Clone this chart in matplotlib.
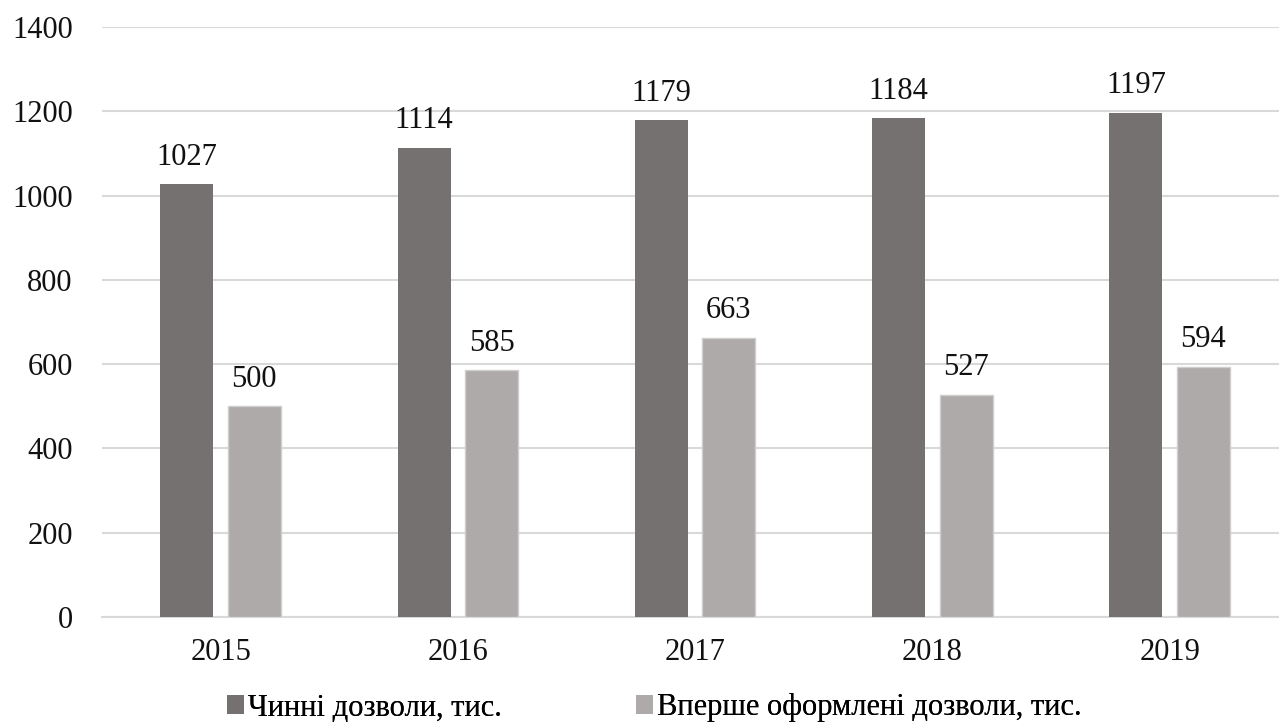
import numpy as np
import matplotlib
matplotlib.use("Agg")
import matplotlib.pyplot as plt
from matplotlib.patches import Patch

# Data
years = ["2015", "2016", "2017", "2018", "2019"]
current_permits = [1027, 1114, 1179, 1184, 1197]
new_permits = [500, 585, 663, 527, 594]
series_names = ["Чинні дозволи, тис.", "Вперше оформлені дозволи, тис."]

dark = "#767171"
light = "#AEAAAA"
fs = 22

plt.rcParams['font.family'] = ['Liberation Serif', 'DejaVu Serif']

fig = plt.figure(figsize=(12.79, 7.24), dpi=100)
ax = fig.add_axes([102 / 1279, 107 / 724, 1177 / 1279, 590 / 724])

x = np.arange(len(years))
w = 0.223
off = 0.142
b1 = ax.bar(x - off, current_permits, w, color=dark, zorder=3)
b2 = ax.bar(x + off, new_permits, w, color=light, edgecolor="#CFCDCD", linewidth=1, zorder=3)

for bars in (b1, b2):
    for r in bars:
        ax.annotate(f"{int(r.get_height())}", (r.get_x() + r.get_width() / 2, r.get_height()),
                    xytext=(0, 9), textcoords="offset points", ha="center", va="bottom",
                    fontsize=fs, color="#111111")

ax.set_xlim(-0.5, -0.5 + 1177 / 237.25)
ax.set_ylim(0, 1400)
ax.set_yticks(range(0, 1401, 200))
ax.set_xticks(x)
ax.set_xticklabels(years)
ax.yaxis.grid(True, color="#D9D9D9", linewidth=1.5, zorder=0)
ax.set_axisbelow(True)
for s in ["top", "right", "left"]:
    ax.spines[s].set_visible(False)
ax.spines["bottom"].set_color("#D9D9D9")
ax.spines["bottom"].set_linewidth(1.5)
ax.tick_params(axis="both", length=0, labelsize=fs, colors="#111111")
ax.tick_params(axis="y", pad=21)
ax.tick_params(axis="x", pad=15)

# two legend entries placed separately, as in the reference
legend_x = [227 / 1279, 636 / 1279]
for name, col, lx in zip(series_names, [dark, light], legend_x):
    leg = fig.legend([Patch(facecolor=col)], [name], loc="center left",
                     bbox_to_anchor=(lx, 1 - 708 / 724), frameon=False, fontsize=fs,
                     handlelength=0.55, handleheight=0.55, handletextpad=0.13,
                     borderpad=0, borderaxespad=0)
    fig.add_artist(leg)

fig.savefig("out.png", dpi=100)
